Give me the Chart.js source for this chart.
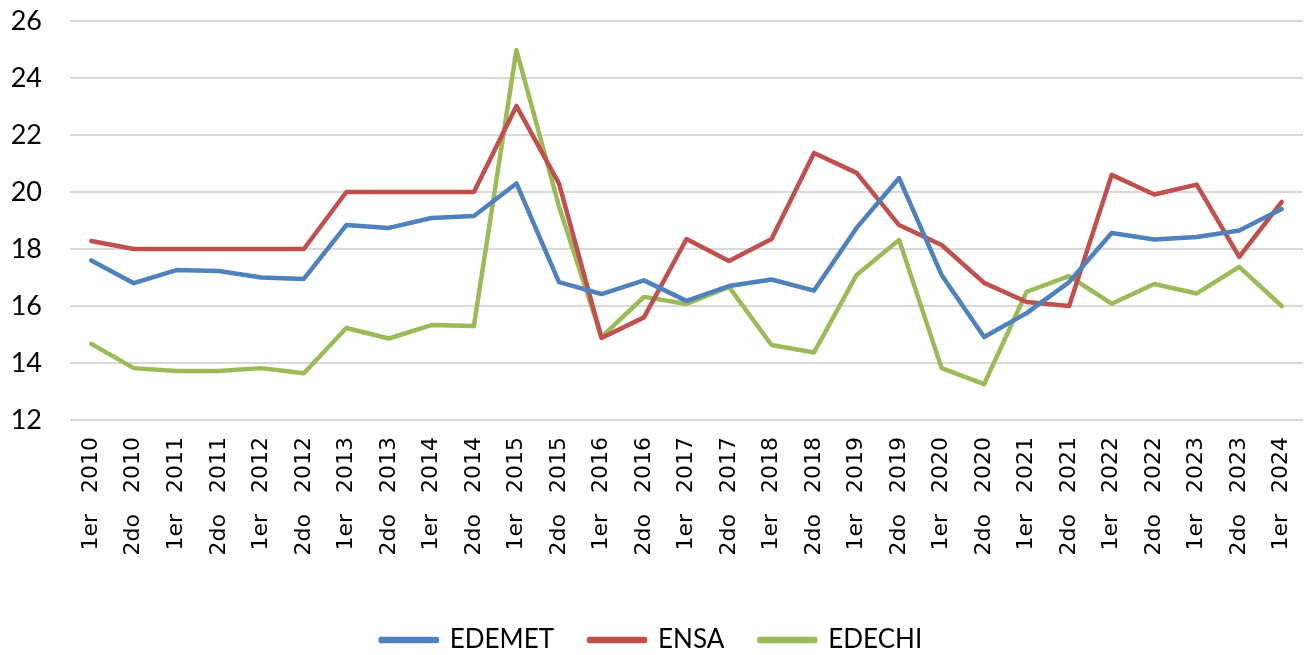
<!DOCTYPE html>
<html>
<head>
<meta charset="utf-8">
<script src="https://cdn.jsdelivr.net/npm/chart.js@4"></script>
<style>
  html, body { margin: 0; padding: 0; background: #fff; }
  #wrap { width: 1307px; height: 655px; }
</style>
</head>
<body>
<div id="wrap"><canvas id="chart" width="1307" height="655"></canvas></div>
<script>
// periodos (semestre + año)
var periods = [
  "1er   2010", "2do   2010", "1er   2011", "2do   2011", "1er   2012", "2do   2012",
  "1er   2013", "2do   2013", "1er   2014", "2do   2014", "1er   2015", "2do   2015",
  "1er   2016", "2do   2016", "1er   2017", "2do   2017", "1er   2018", "2do   2018",
  "1er   2019", "2do   2019", "1er   2020", "2do   2020", "1er   2021", "2do   2021",
  "1er   2022", "2do   2022", "1er   2023", "2do   2023", "1er   2024"
];

var edemet = [17.6, 16.8, 17.26, 17.23, 17.0, 16.95, 18.84, 18.74, 19.09, 19.16,
  20.3, 16.84, 16.42, 16.9, 16.18, 16.7, 16.93, 16.54, 18.74, 20.49,
  17.09, 14.91, 15.75, 16.84, 18.56, 18.33, 18.42, 18.65, 19.4];

var ensa = [18.28, 18.0, 18.0, 18.0, 18.0, 18.0, 20.0, 20.0, 20.0, 20.0,
  23.02, 20.3, 14.88, 15.6, 18.35, 17.58, 18.35, 21.37, 20.67, 18.84,
  18.14, 16.81, 16.14, 16.0, 20.6, 19.91, 20.26, 17.72, 19.65];

var edechi = [14.67, 13.82, 13.72, 13.72, 13.82, 13.64, 15.23, 14.86, 15.33, 15.3,
  24.98, 19.5, 14.91, 16.32, 16.07, 16.67, 14.63, 14.37, 17.09, 18.32,
  13.82, 13.26, 16.5, 17.05, 16.08, 16.77, 16.44, 17.37, 16.0];

var yMin = 12, yMax = 26, yStep = 2;

function serie(label, data, color) {
  return {
    label: label,
    data: data,
    borderColor: color,
    backgroundColor: color,
    borderWidth: 4.5,
    pointRadius: 0,
    pointHoverRadius: 0,
    tension: 0,
    borderCapStyle: 'round',
    borderJoinStyle: 'round',
    fill: false
  };
}

var chart = new Chart(document.getElementById("chart"), {
  type: 'line',
  data: {
    labels: periods,
    datasets: [
      serie("EDEMET", edemet, "#4F81BD"),
      serie("ENSA", ensa, "#C0504D"),
      serie("EDECHI", edechi, "#9BBB59")
    ]
  },
  options: {
    responsive: false,
    animation: false,
    layout: { padding: { top: 21, right: 4, left: 0, bottom: -8 } },
    plugins: {
      tooltip: { enabled: false },
      legend: {
        display: true,
        position: 'bottom',
        labels: {
          color: '#000',
          font: { family: 'Lato', size: 26 },
          boxWidth: 56,
          boxHeight: 2,
          padding: 35
        }
      }
    },
    scales: {
      x: {
        offset: true,
        grid: { display: false, drawTicks: false },
        border: { display: false },
        ticks: {
          color: '#000',
          font: { family: 'DejaVu Sans', size: 22 },
          autoSkip: false,
          maxRotation: 90,
          minRotation: 90,
          padding: 17
        },
        afterFit: function(scale) {
          scale.height = 172;
          scale.paddingLeft = 0;
          scale.paddingRight = 0;
        }
      },
      y: {
        min: yMin,
        max: yMax,
        grid: { color: '#d9d9d9', lineWidth: 2, drawTicks: false },
        border: { display: false },
        ticks: {
          stepSize: yStep,
          color: '#000',
          font: { family: 'Lato', size: 27 },
          padding: 28
        },
        afterFit: function(scale) {
          scale.width = 70;
          scale.paddingTop = 0;
          scale.paddingBottom = 0;
        }
      }
    }
  }
});
</script>
</body>
</html>
